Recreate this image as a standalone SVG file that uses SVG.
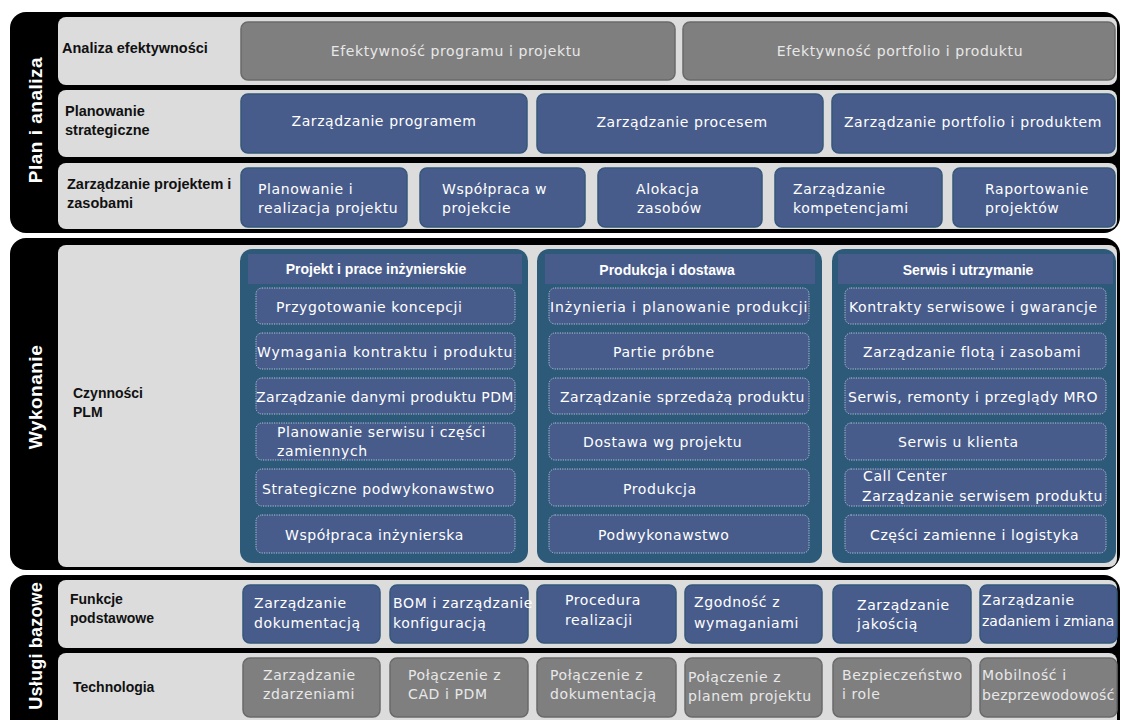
<svg xmlns="http://www.w3.org/2000/svg" width="1121" height="720" viewBox="0 0 1121 720">
<defs>
<style>
.band{fill:#000}
.row{fill:#dcdcdc}
.gbox{fill:#7f7f7f;stroke:#6a6a6a;stroke-width:1.5}
.bbox{fill:#485c8c;stroke:#34577a;stroke-width:1.5}
.panel{fill:#2c5a78}
.phead{fill:#485c8c}
.item{fill:#485c8c;stroke:#b4c2d6;stroke-width:1;stroke-dasharray:1.2 1.2}
.lbl{font-family:"Liberation Sans",Arial,sans-serif;font-weight:bold;font-size:14.5px;fill:#111}
.vt{font-family:"Liberation Sans",Arial,sans-serif;font-weight:bold;font-size:19px;fill:#fff;letter-spacing:0.5px}
.ht{font-family:"Liberation Sans",Arial,sans-serif;font-weight:bold;font-size:14px;fill:#fff;text-anchor:middle}
.bt{font-family:"DejaVu Sans",Verdana,sans-serif;font-size:14px;fill:#fff;letter-spacing:0.6px}
.gt{font-family:"DejaVu Sans",Verdana,sans-serif;font-size:14px;fill:#e8e8e8;letter-spacing:0.6px}
.c{text-anchor:middle}
</style>
</defs>

<!-- Section backgrounds -->
<g id="section-plan">
<rect class="band" x="10" y="12" width="1110" height="221" rx="16"/>
<rect class="row" x="58" y="17" width="1059" height="68" rx="8"/>
<rect class="row" x="58" y="90" width="1059" height="67" rx="8"/>
<rect class="row" x="58" y="163" width="1059" height="66" rx="8"/>
<text class="vt" transform="translate(42,120) rotate(-90)" text-anchor="middle">Plan i analiza</text>
</g>
<g id="section-wykonanie">
<rect class="band" x="10" y="238" width="1110" height="332" rx="16"/>
<rect class="row" x="58" y="245" width="1059" height="322" rx="8"/>
<text class="vt" transform="translate(42,397) rotate(-90)" text-anchor="middle">Wykonanie</text>
</g>
<g id="section-uslugi">
<rect class="band" x="10" y="575" width="1110" height="165" rx="16"/>
<rect class="row" x="58" y="580" width="1059" height="68" rx="8"/>
<rect class="row" x="58" y="653" width="1059" height="80" rx="8"/>
<text class="vt" transform="translate(42,582) rotate(-90)" text-anchor="end" style="font-size:18px;letter-spacing:0.2px">Usługi bazowe</text>
</g>

<!-- Row labels -->
<g id="label-analiza"><text class="lbl" x="62" y="53">Analiza efektywności</text></g>
<g id="label-planowanie"><text class="lbl" x="65" y="116">Planowanie</text><text class="lbl" x="65" y="135">strategiczne</text></g>
<g id="label-zarzadzanie"><text class="lbl" x="67" y="189">Zarządzanie projektem i</text><text class="lbl" x="67" y="208">zasobami</text></g>
<g id="label-czynnosci"><text class="lbl" x="73" y="398" style="font-size:14px">Czynności</text><text class="lbl" x="73" y="417" style="font-size:14px">PLM</text></g>
<g id="label-funkcje"><text class="lbl" x="70" y="604" style="font-size:14px">Funkcje</text><text class="lbl" x="70" y="623" style="font-size:14px">podstawowe</text></g>
<g id="label-technologia"><text class="lbl" x="73" y="692" style="font-size:14px">Technologia</text></g>

<!-- Row 1: Analiza efektywnosci -->
<g id="n-efekt-prog"><rect class="gbox" x="241" y="22" width="434" height="58" rx="7"/><text class="gt c" x="456" y="56">Efektywność programu i projektu</text></g>
<g id="n-efekt-port"><rect class="gbox" x="683" y="22" width="432" height="58" rx="7"/><text class="gt c" x="900" y="56">Efektywność portfolio i produktu</text></g>

<!-- Row 2: Planowanie strategiczne -->
<g id="n-program"><rect class="bbox" x="241" y="94" width="286" height="59" rx="7"/><text class="bt c" x="384" y="126">Zarządzanie programem</text></g>
<g id="n-proces"><rect class="bbox" x="537" y="94" width="286" height="59" rx="7"/><text class="bt c" x="682" y="127">Zarządzanie procesem</text></g>
<g id="n-portfolio"><rect class="bbox" x="832" y="94" width="283" height="59" rx="7"/><text class="bt c" x="973" y="127">Zarządzanie portfolio i produktem</text></g>

<!-- Row 3: Zarzadzanie projektem i zasobami -->
<g id="n-plan-real"><rect class="bbox" x="241" y="168" width="166" height="59" rx="7"/><text class="bt" x="258" y="194">Planowanie i</text><text class="bt" x="258" y="213">realizacja projektu</text></g>
<g id="n-wspolpraca"><rect class="bbox" x="420" y="168" width="165" height="59" rx="7"/><text class="bt" x="442" y="194">Współpraca w</text><text class="bt" x="442" y="213">projekcie</text></g>
<g id="n-alokacja"><rect class="bbox" x="598" y="168" width="164" height="59" rx="7"/><text class="bt" x="636" y="194">Alokacja</text><text class="bt" x="637" y="213">zasobów</text></g>
<g id="n-kompetencje"><rect class="bbox" x="775" y="168" width="167" height="59" rx="7"/><text class="bt" x="793" y="194">Zarządzanie</text><text class="bt" x="793" y="213">kompetencjami</text></g>
<g id="n-raport"><rect class="bbox" x="953" y="168" width="162" height="59" rx="7"/><text class="bt" x="985" y="194">Raportowanie</text><text class="bt" x="985" y="213">projektów</text></g>

<!-- Panel 1 -->
<g id="p-projekt">
<rect class="panel" x="240" y="249" width="288" height="314" rx="12"/>
<rect class="phead" x="248" y="254" width="274" height="30"/>
<text class="ht" x="376" y="274">Projekt i prace inżynierskie</text>
</g>
<g id="i-koncepcja"><rect class="item" x="256" y="288" width="259" height="36" rx="6"/><text class="bt" x="276" y="312">Przygotowanie koncepcji</text></g>
<g id="i-wymagania"><rect class="item" x="256" y="333" width="259" height="36" rx="6"/><text class="bt" x="257" y="357" textLength="256">Wymagania kontraktu i produktu</text></g>
<g id="i-pdm"><rect class="item" x="256" y="378" width="259" height="36" rx="6"/><text class="bt" x="256" y="402" textLength="258">Zarządzanie danymi produktu PDM</text></g>
<g id="i-serwis-plan"><rect class="item" x="256" y="423" width="259" height="37" rx="6"/><text class="bt" x="277" y="437">Planowanie serwisu i części</text><text class="bt" x="277" y="456">zamiennych</text></g>
<g id="i-strat"><rect class="item" x="256" y="469" width="259" height="37" rx="6"/><text class="bt" x="262" y="494">Strategiczne podwykonawstwo</text></g>
<g id="i-wspinz"><rect class="item" x="256" y="515" width="259" height="38" rx="6"/><text class="bt" x="285" y="540">Współpraca inżynierska</text></g>

<!-- Panel 2 -->
<g id="p-produkcja">
<rect class="panel" x="537" y="249" width="285" height="314" rx="12"/>
<rect class="phead" x="545" y="254" width="270" height="30"/>
<text class="ht" x="667" y="275">Produkcja i dostawa</text>
</g>
<g id="i-inz-plan"><rect class="item" x="549" y="288" width="260" height="36" rx="6"/><text class="bt" x="550" y="312" textLength="258">Inżynieria i planowanie produkcji</text></g>
<g id="i-partie"><rect class="item" x="549" y="333" width="260" height="36" rx="6"/><text class="bt" x="613" y="357">Partie próbne</text></g>
<g id="i-sprzedaz"><rect class="item" x="549" y="378" width="260" height="36" rx="6"/><text class="bt" x="560" y="402" textLength="245">Zarządzanie sprzedażą produktu</text></g>
<g id="i-dostawa"><rect class="item" x="549" y="423" width="260" height="37" rx="6"/><text class="bt" x="583" y="447">Dostawa wg projektu</text></g>
<g id="i-produkcja"><rect class="item" x="549" y="469" width="260" height="37" rx="6"/><text class="bt" x="623" y="494">Produkcja</text></g>
<g id="i-podwyk"><rect class="item" x="549" y="515" width="260" height="38" rx="6"/><text class="bt" x="598" y="540">Podwykonawstwo</text></g>

<!-- Panel 3 -->
<g id="p-serwis">
<rect class="panel" x="832" y="249" width="284" height="314" rx="12"/>
<rect class="phead" x="838" y="254" width="275" height="30"/>
<text class="ht" x="968" y="275">Serwis i utrzymanie</text>
</g>
<g id="i-kontrakty"><rect class="item" x="845" y="288" width="261" height="36" rx="6"/><text class="bt" x="849" y="312">Kontrakty serwisowe i gwarancje</text></g>
<g id="i-flota"><rect class="item" x="845" y="333" width="261" height="36" rx="6"/><text class="bt" x="863" y="357">Zarządzanie flotą i zasobami</text></g>
<g id="i-mro"><rect class="item" x="845" y="378" width="261" height="36" rx="6"/><text class="bt" x="848" y="402" textLength="250">Serwis, remonty i przeglądy MRO</text></g>
<g id="i-klient"><rect class="item" x="845" y="423" width="261" height="37" rx="6"/><text class="bt" x="898" y="447">Serwis u klienta</text></g>
<g id="i-callcenter"><rect class="item" x="845" y="469" width="261" height="37" rx="6"/><text class="bt" x="863" y="481">Call Center</text><text class="bt" x="862" y="501" textLength="241">Zarządzanie serwisem produktu</text></g>
<g id="i-czesci"><rect class="item" x="845" y="515" width="261" height="38" rx="6"/><text class="bt" x="870" y="540">Części zamienne i logistyka</text></g>

<!-- Funkcje podstawowe -->
<g id="f-dokumentacja"><rect class="bbox" x="243" y="585" width="137" height="58" rx="7"/><text class="bt" x="254" y="608">Zarządzanie</text><text class="bt" x="254" y="628">dokumentacją</text></g>
<g id="f-bom"><rect class="bbox" x="390" y="585" width="138" height="58" rx="7"/><text class="bt" x="393" y="608" textLength="140">BOM i zarządzanie</text><text class="bt" x="393" y="628">konfiguracją</text></g>
<g id="f-procedura"><rect class="bbox" x="537" y="585" width="139" height="58" rx="7"/><text class="bt" x="565" y="605">Procedura</text><text class="bt" x="565" y="625">realizacji</text></g>
<g id="f-zgodnosc"><rect class="bbox" x="685" y="585" width="137" height="58" rx="7"/><text class="bt" x="694" y="607">Zgodność z</text><text class="bt" x="694" y="628">wymaganiami</text></g>
<g id="f-jakosc"><rect class="bbox" x="833" y="585" width="138" height="58" rx="7"/><text class="bt" x="857" y="610">Zarządzanie</text><text class="bt" x="857" y="629">jakością</text></g>
<g id="f-zadania"><rect class="bbox" x="980" y="585" width="137" height="58" rx="7"/><text class="bt" x="982" y="605">Zarządzanie</text><text class="bt" x="982" y="626" textLength="133">zadaniem i zmiana</text></g>

<!-- Technologia -->
<g id="t-zdarzenia"><rect class="gbox" x="243" y="658" width="137" height="59" rx="7"/><text class="gt" x="263" y="680">Zarządzanie</text><text class="gt" x="263" y="699">zdarzeniami</text></g>
<g id="t-cad"><rect class="gbox" x="390" y="658" width="138" height="59" rx="7"/><text class="gt" x="408" y="680">Połączenie z</text><text class="gt" x="408" y="699">CAD i PDM</text></g>
<g id="t-dok"><rect class="gbox" x="537" y="658" width="139" height="59" rx="7"/><text class="gt" x="550" y="680">Połączenie z</text><text class="gt" x="550" y="699">dokumentacją</text></g>
<g id="t-plan"><rect class="gbox" x="685" y="658" width="137" height="59" rx="7"/><text class="gt" x="688" y="682">Połączenie z</text><text class="gt" x="688" y="701">planem projektu</text></g>
<g id="t-bezp"><rect class="gbox" x="833" y="658" width="138" height="59" rx="7"/><text class="gt" x="842" y="680">Bezpieczeństwo</text><text class="gt" x="842" y="699">i role</text></g>
<g id="t-mobil"><rect class="gbox" x="980" y="658" width="137" height="59" rx="7"/><text class="gt" x="982" y="680">Mobilność i</text><text class="gt" x="982" y="700" textLength="133">bezprzewodowość</text></g>

<g id="connectors"></g>
</svg>
